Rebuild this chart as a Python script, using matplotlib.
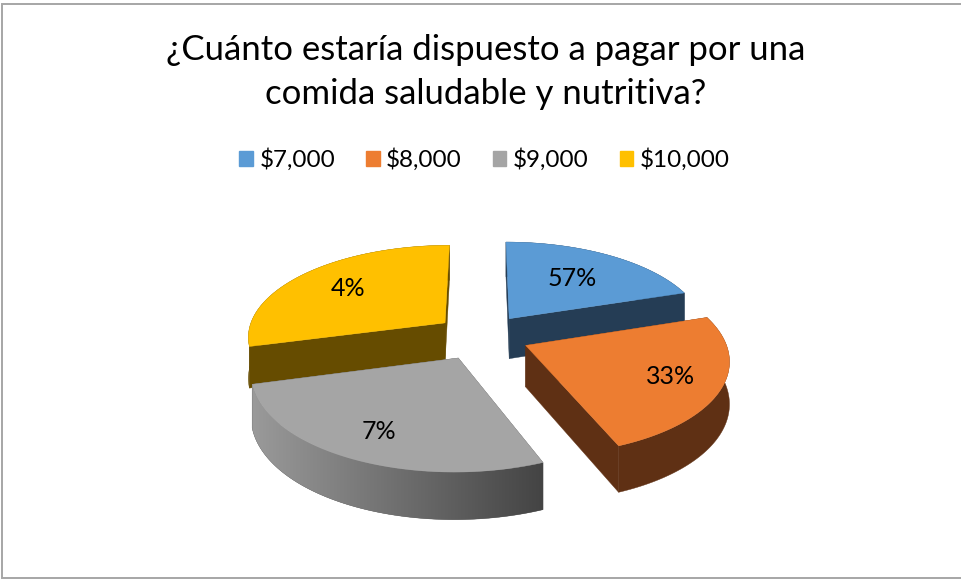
"""Exploded 3D pie from a Spanish survey chart, built from projected wedges."""
import numpy as np
import matplotlib
matplotlib.use("Agg")
import matplotlib.pyplot as plt
from matplotlib.colors import LinearSegmentedColormap
from matplotlib.patches import Patch, Polygon

plt.rcParams["font.family"] = ["Lato", "DejaVu Sans"]

TITLE = "¿Cuánto estaría dispuesto a pagar por una\ncomida saludable y nutritiva?"
CATEGORIES = ["$7,000", "$8,000", "$9,000", "$10,000"]
PERCENT = [57, 33, 7, 4]
# the slices in the picture do not follow the percentages, so their sweeps are read separately
SWEEP_DEG = [72, 86, 97, 105]
EXPLODE = [0.24, 0.24, 0.26, 0.24]
LABEL_RADIUS = [0.61, 0.75, 0.76, 0.68]

TOP_COLORS = ["#5B9BD5", "#ED7D31", "#A5A5A5", "#FFC000"]
SIDE_COLORS = ["#253D55", "#5F3014", None, "#664C00"]
WALL_CMAP = LinearSegmentedColormap.from_list("wall", ["#9A9A9A", "#444444"])

CX, CY = 482, 336
RX, RY = 198, 91.6
PERSP = 0.138
DEPTH = 41


def project(u, v):
    w = 1 + PERSP * v
    return CX + RX * u / w, CY - RY * v / w


def drop(v):
    return DEPTH * (1 - 0.13 * v)


def draw_slice(ax, start, sweep, explode, top, side, zorder):
    mid = np.radians(start + sweep / 2)
    off_u, off_v = explode * np.sin(mid), explode * np.cos(mid)
    t = np.radians(np.linspace(start, start + sweep, 80))
    rim_u, rim_v = np.sin(t) + off_u, np.cos(t) + off_v
    rim_x, rim_y = project(rim_u, rim_v)
    rim_d = drop(rim_v)
    apex_x, apex_y = project(off_u, off_v)
    apex_d = drop(off_v)
    face = side if side else "#555555"

    # radial cut faces, first and last edge of the slice
    for i in (0, -1):
        quad = [(apex_x, apex_y), (rim_x[i], rim_y[i]), (rim_x[i], rim_y[i] + rim_d[i]), (apex_x, apex_y + apex_d)]
        ax.add_patch(Polygon(quad, closed=True, fc=face, ec=face, lw=0.3, zorder=zorder))

    # outer wall, the grey one shades from left to right
    wall_pts = np.vstack([np.column_stack([rim_x, rim_y]),
                          np.column_stack([rim_x, rim_y + rim_d])[::-1]])
    wall = Polygon(wall_pts, closed=True, fc=face, ec=face, lw=0.3, zorder=zorder)
    ax.add_patch(wall)
    if not side:
        im = ax.imshow(np.linspace(0, 1, 256)[None, :], cmap=WALL_CMAP, aspect="auto", zorder=zorder,
                       extent=[rim_x.min(), rim_x.max(), wall_pts[:, 1].max(), wall_pts[:, 1].min()])
        im.set_clip_path(wall)

    outline = [(apex_x, apex_y)] + list(zip(rim_x, rim_y))
    ax.add_patch(Polygon(outline, closed=True, fc=top, ec=top, lw=0.3, zorder=zorder + 0.5))


def main():
    fig = plt.figure(figsize=(9.61, 5.8), dpi=100)
    ax = fig.add_axes([0, 0, 1, 1])

    starts = np.concatenate([[0], np.cumsum(SWEEP_DEG)[:-1]])
    # back slices first so the front ones overlap them
    order = [0, 3, 2, 1]
    for z, i in enumerate(order):
        draw_slice(ax, starts[i], SWEEP_DEG[i], EXPLODE[i], TOP_COLORS[i], SIDE_COLORS[i], 2 + z)

    for i in range(len(PERCENT)):
        mid = np.radians(starts[i] + SWEEP_DEG[i] / 2)
        r = EXPLODE[i] + LABEL_RADIUS[i]
        x, y = project(r * np.sin(mid), r * np.cos(mid))
        ax.text(x, y, f"{PERCENT[i]}%", ha="center", va="center", fontsize=18, color="black", zorder=10)

    ax.text(486, 72, TITLE, ha="center", va="center", fontsize=25, linespacing=1.48, color="black")

    handles = [Patch(fc=c, ec=c, label=n) for c, n in zip(TOP_COLORS, CATEGORIES)]
    ax.legend(handles=handles, ncol=4, frameon=False, fontsize=17.5, loc="center",
              bbox_to_anchor=(484.5 / 961, 1 - 159.5 / 580), handlelength=0.55, handleheight=0.55,
              handletextpad=0.27, columnspacing=1.28, borderpad=0, borderaxespad=0)

    # chart frame, open on the right where the screenshot cuts it off
    ax.plot([961, 2, 2, 961], [4, 4, 578, 578], color="#A6A6A6", lw=1.4, solid_joinstyle="miter", zorder=1)

    ax.set_xlim(0, 961)
    ax.set_ylim(580, 0)
    ax.axis("off")
    fig.savefig("out.png", dpi=100)
    plt.close(fig)


if __name__ == "__main__":
    main()
